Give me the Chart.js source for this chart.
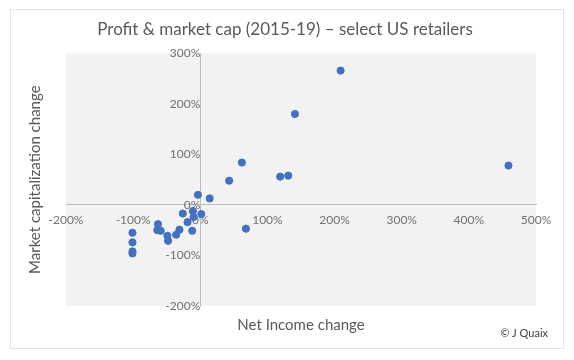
<!DOCTYPE html>
<html lang="en">
<head>
  <meta charset="UTF-8">
  <title>Profit & market cap</title>
  <script src="https://cdn.jsdelivr.net/npm/chart.js"></script>
  <style>
    body { margin: 0; background: #fff; }
    .wrap { width: 574px; height: 360px; position: relative; }
  </style>
</head>
<body>
<div class="wrap">
  <canvas id="scatter" width="574" height="360"></canvas>
</div>

<script>
  // values, in percent
  const netIncomeChange = [209, 141, 62, 459, 119, 131, 43, -3.5, 14, 68, -11, -26, 1.5, -10,
    -19, -12, -31, -36, -49, -48, -63, -64, -59, -101, -101, -101, -101];
  const marketCapChange = [266, 180, 84, 78, 56, 58, 48, 20, 13, -47, -12, -17, -18, -24,
    -34, -51, -49, -59, -61, -71, -38, -50, -51, -55, -74, -92, -96];
  const xRange = [-200, 500];
  const yRange = [-200, 300];

  const points = netIncomeChange.map((x, i) => ({ x: x, y: marketCapChange[i] }));
  const pct = v => v + '%';
  const font = "Lato, 'Open Sans', sans-serif";

  // frame, plot background and credit line
  const frame = {
    id: 'frame',
    beforeDraw(chart) {
      const c = chart.ctx, a = chart.chartArea;
      c.save();
      c.fillStyle = '#fff';
      c.fillRect(0, 0, chart.width, chart.height);
      c.strokeStyle = '#e4e4e4';
      c.lineWidth = 1;
      c.strokeRect(10.5, 9.5, 553, 339);
      c.fillStyle = '#f2f2f2';
      c.fillRect(a.left, a.top, a.right - a.left, a.bottom - a.top);
      c.restore();
    },
    afterDraw(chart) {
      const c = chart.ctx;
      c.save();
      c.font = "11px " + font;
      c.fillStyle = '#404040';
      c.textAlign = 'right';
      c.textBaseline = 'middle';
      c.fillText('© J Quaix', 548, 333);
      c.restore();
    }
  };

  new Chart(document.getElementById('scatter'), {
    type: 'scatter',
    data: {
      datasets: [{
        data: points,
        backgroundColor: '#4371c2',
        borderColor: '#4371c2',
        pointRadius: 3.6,
        pointHoverRadius: 3.6
      }]
    },
    options: {
      responsive: false,
      animation: false,
      layout: { padding: { left: 10, right: 14, top: 0, bottom: 10 } },
      plugins: {
        legend: { display: false },
        tooltip: { enabled: false },
        title: {
          display: true,
          text: 'Profit & market cap (2015-19) – select US retailers',
          color: '#595959',
          font: { family: font, size: 17, weight: 'normal' },
          padding: { top: 19, bottom: 14 }
        }
      },
      scales: {
        x: {
          type: 'linear',
          position: { y: 0 },
          min: xRange[0], max: xRange[1],
          grid: { display: false, drawTicks: false },
          border: { display: true, color: '#bfbfbf', width: 1 },
          ticks: { stepSize: 100, callback: pct, color: '#707070', padding: 8,
                   font: { family: font, size: 12 }, maxRotation: 0 }
        },
        y: {
          type: 'linear',
          position: { x: 0 },
          min: yRange[0], max: yRange[1],
          grid: { display: false, drawTicks: false },
          border: { display: true, color: '#bfbfbf', width: 1 },
          ticks: { stepSize: 100, callback: pct, color: '#707070', padding: 12,
                   font: { family: font, size: 12 } }
        },
        x2: {
          type: 'linear',
          position: 'bottom',
          min: xRange[0], max: xRange[1],
          grid: { display: false, drawTicks: false },
          border: { display: false },
          ticks: { display: false },
          title: { display: true, text: 'Net Income change', color: '#595959',
                   font: { family: font, size: 15 }, padding: { top: 10, bottom: 16 } }
        },
        y2: {
          type: 'linear',
          position: 'left',
          min: yRange[0], max: yRange[1],
          grid: { display: false, drawTicks: false },
          border: { display: false },
          ticks: { display: false },
          title: { display: true, text: 'Market capitalization change', color: '#595959',
                   font: { family: font, size: 15 }, padding: { top: 16, bottom: 22 } }
        },
        // empty strip on the right so the plot ends where the reference does
        y3: {
          type: 'linear',
          position: 'right',
          min: yRange[0], max: yRange[1],
          grid: { display: false, drawTicks: false },
          border: { display: false },
          ticks: { display: false },
          afterFit: s => { s.width = 24; }
        }
      }
    },
    plugins: [frame]
  });
</script>
</body>
</html>
